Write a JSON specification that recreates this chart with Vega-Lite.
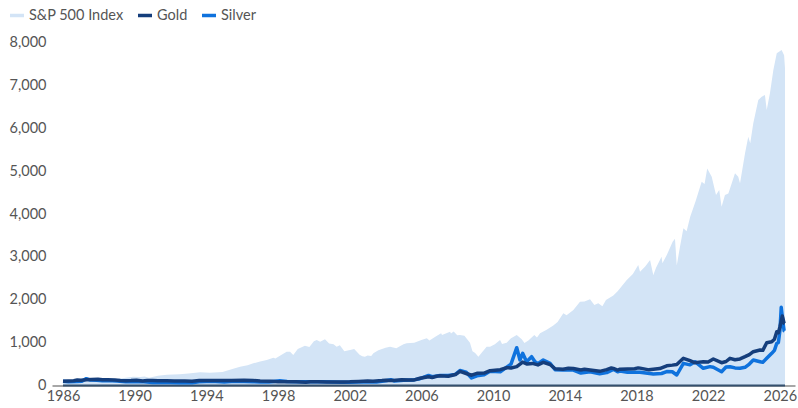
{
  "$schema": "https://vega.github.io/schema/vega-lite/v6.json",
  "width": 743,
  "height": 343,
  "autosize": {"type": "none"},
  "padding": {"left": 52, "top": 42.5, "right": 3, "bottom": 22.5},
  "background": "white",
  "config": {
    "view": {"stroke": null},
    "font": "Lato",
    "axis": {"labelFont": "Lato", "labelFontSize": 14.5, "labelColor": "#555555", "grid": false, "ticks": false, "title": null},
    "legend": {"labelFont": "Lato", "labelFontSize": 14.5, "labelColor": "#555555"}
  },
  "datasets": {
    "sp": [
      {"t":1986.0,"v":100},{"t":1986.25,"v":116},{"t":1986.55,"v":118},{"t":1986.72,"v":110},{"t":1987.0,"v":122},{"t":1987.3,"v":145},{"t":1987.62,"v":160},{"t":1987.8,"v":122},{"t":1988.0,"v":128},{"t":1988.5,"v":140},{"t":1989.0,"v":150},{"t":1989.6,"v":185},{"t":1989.92,"v":205},{"t":1990.3,"v":200},{"t":1990.55,"v":212},{"t":1990.8,"v":178},{"t":1991.3,"v":225},{"t":1991.8,"v":250},{"t":1992.5,"v":260},{"t":1993.0,"v":280},{"t":1993.65,"v":310},{"t":1994.2,"v":300},{"t":1994.9,"v":315},{"t":1995.13,"v":345},{"t":1995.5,"v":390},{"t":1995.88,"v":438},{"t":1996.3,"v":470},{"t":1996.62,"v":517},{"t":1997.0,"v":560},{"t":1997.37,"v":595},{"t":1997.74,"v":650},{"t":1997.85,"v":630},{"t":1998.2,"v":720},{"t":1998.48,"v":788},{"t":1998.67,"v":790},{"t":1998.85,"v":711},{"t":1999.1,"v":850},{"t":1999.5,"v":930},{"t":1999.75,"v":900},{"t":2000.0,"v":1030},{"t":2000.16,"v":1061},{"t":2000.35,"v":1020},{"t":2000.62,"v":1077},{"t":2000.85,"v":980},{"t":2001.1,"v":960},{"t":2001.27,"v":905},{"t":2001.45,"v":940},{"t":2001.7,"v":800},{"t":2002.02,"v":828},{"t":2002.25,"v":850},{"t":2002.55,"v":720},{"t":2002.7,"v":680},{"t":2002.85,"v":672},{"t":2003.0,"v":700},{"t":2003.2,"v":690},{"t":2003.32,"v":751},{"t":2003.6,"v":820},{"t":2004.0,"v":880},{"t":2004.25,"v":905},{"t":2004.6,"v":870},{"t":2005.0,"v":960},{"t":2005.18,"v":984},{"t":2005.6,"v":1000},{"t":2006.0,"v":1060},{"t":2006.3,"v":1101},{"t":2006.45,"v":1050},{"t":2006.8,"v":1140},{"t":2007.1,"v":1217},{"t":2007.15,"v":1180},{"t":2007.6,"v":1255},{"t":2007.65,"v":1210},{"t":2007.8,"v":1262},{"t":2008.0,"v":1170},{"t":2008.15,"v":1178},{"t":2008.4,"v":1160},{"t":2008.71,"v":1000},{"t":2008.85,"v":800},{"t":2009.0,"v":760},{"t":2009.18,"v":672},{"t":2009.35,"v":760},{"t":2009.64,"v":905},{"t":2009.83,"v":905},{"t":2010.1,"v":960},{"t":2010.39,"v":1061},{"t":2010.5,"v":970},{"t":2010.76,"v":1000},{"t":2011.0,"v":1100},{"t":2011.32,"v":1178},{"t":2011.6,"v":1080},{"t":2011.75,"v":990},{"t":2011.97,"v":1050},{"t":2012.3,"v":1180},{"t":2012.45,"v":1120},{"t":2012.62,"v":1217},{"t":2012.99,"v":1300},{"t":2013.36,"v":1400},{"t":2013.6,"v":1480},{"t":2013.92,"v":1683},{"t":2014.1,"v":1640},{"t":2014.48,"v":1760},{"t":2014.85,"v":1955},{"t":2015.1,"v":1960},{"t":2015.41,"v":2010},{"t":2015.65,"v":1880},{"t":2015.87,"v":1917},{"t":2016.1,"v":1850},{"t":2016.3,"v":1994},{"t":2016.71,"v":2100},{"t":2016.95,"v":2200},{"t":2017.46,"v":2460},{"t":2017.8,"v":2600},{"t":2018.1,"v":2810},{"t":2018.2,"v":2654},{"t":2018.5,"v":2780},{"t":2018.76,"v":2927},{"t":2018.94,"v":2577},{"t":2019.1,"v":2750},{"t":2019.4,"v":3004},{"t":2019.45,"v":2850},{"t":2019.7,"v":3050},{"t":2020.02,"v":3354},{"t":2020.15,"v":3420},{"t":2020.25,"v":2800},{"t":2020.43,"v":3237},{"t":2020.62,"v":3666},{"t":2020.8,"v":3600},{"t":2021.0,"v":3937},{"t":2021.3,"v":4300},{"t":2021.64,"v":4753},{"t":2021.8,"v":4700},{"t":2021.95,"v":5060},{"t":2022.2,"v":4870},{"t":2022.44,"v":4443},{"t":2022.62,"v":4560},{"t":2022.75,"v":4170},{"t":2022.94,"v":4443},{"t":2023.13,"v":4480},{"t":2023.5,"v":4950},{"t":2023.68,"v":4870},{"t":2023.78,"v":4715},{"t":2024.06,"v":5415},{"t":2024.24,"v":5800},{"t":2024.35,"v":5650},{"t":2024.52,"v":6115},{"t":2024.8,"v":6660},{"t":2024.99,"v":6735},{"t":2025.17,"v":6775},{"t":2025.27,"v":6425},{"t":2025.45,"v":6815},{"t":2025.64,"v":7360},{"t":2025.83,"v":7750},{"t":2026.1,"v":7825},{"t":2026.24,"v":7705},{"t":2026.29,"v":7400}
    ],
    "gold": [
      {"t":1986.0,"v":100},{"t":1986.3,"v":104},{"t":1986.6,"v":110},{"t":1986.8,"v":128},{"t":1987.0,"v":124},{"t":1987.3,"v":133},{"t":1987.6,"v":140},{"t":1987.95,"v":148},{"t":1988.2,"v":135},{"t":1988.5,"v":133},{"t":1988.9,"v":127},{"t":1989.2,"v":118},{"t":1989.5,"v":112},{"t":1989.8,"v":114},{"t":1990.1,"v":124},{"t":1990.45,"v":106},{"t":1990.7,"v":118},{"t":1991.0,"v":116},{"t":1991.3,"v":108},{"t":1991.8,"v":109},{"t":1992.2,"v":106},{"t":1992.8,"v":104},{"t":1993.2,"v":100},{"t":1993.6,"v":116},{"t":1994.0,"v":117},{"t":1994.5,"v":116},{"t":1995.0,"v":115},{"t":1995.4,"v":118},{"t":1996.1,"v":125},{"t":1996.6,"v":117},{"t":1997.0,"v":106},{"t":1997.6,"v":98},{"t":1998.0,"v":88},{"t":1998.5,"v":89},{"t":1999.0,"v":87},{"t":1999.55,"v":78},{"t":1999.8,"v":90},{"t":2000.2,"v":87},{"t":2000.7,"v":83},{"t":2001.2,"v":80},{"t":2001.7,"v":84},{"t":2002.0,"v":86},{"t":2002.5,"v":95},{"t":2003.0,"v":106},{"t":2003.3,"v":100},{"t":2003.8,"v":115},{"t":2004.0,"v":124},{"t":2004.4,"v":118},{"t":2004.9,"v":132},{"t":2005.3,"v":128},{"t":2005.6,"v":130},{"t":2005.92,"v":168},{"t":2006.4,"v":205},{"t":2006.6,"v":188},{"t":2006.85,"v":215},{"t":2007.04,"v":225},{"t":2007.5,"v":215},{"t":2007.9,"v":255},{"t":2008.15,"v":330},{"t":2008.5,"v":280},{"t":2008.8,"v":240},{"t":2009.1,"v":285},{"t":2009.5,"v":290},{"t":2009.83,"v":345},{"t":2010.4,"v":370},{"t":2010.76,"v":415},{"t":2011.0,"v":410},{"t":2011.32,"v":440},{"t":2011.65,"v":545},{"t":2011.9,"v":500},{"t":2012.2,"v":515},{"t":2012.5,"v":480},{"t":2012.8,"v":540},{"t":2013.18,"v":490},{"t":2013.46,"v":390},{"t":2013.9,"v":380},{"t":2014.2,"v":400},{"t":2014.48,"v":395},{"t":2014.9,"v":360},{"t":2015.1,"v":380},{"t":2015.41,"v":360},{"t":2015.95,"v":330},{"t":2016.34,"v":370},{"t":2016.6,"v":410},{"t":2016.71,"v":400},{"t":2016.95,"v":360},{"t":2017.08,"v":380},{"t":2017.5,"v":385},{"t":2017.9,"v":390},{"t":2018.1,"v":410},{"t":2018.2,"v":405},{"t":2018.7,"v":365},{"t":2018.94,"v":377},{"t":2019.3,"v":395},{"t":2019.69,"v":460},{"t":2020.0,"v":475},{"t":2020.25,"v":490},{"t":2020.62,"v":634},{"t":2020.99,"v":579},{"t":2021.27,"v":530},{"t":2021.5,"v":545},{"t":2021.73,"v":555},{"t":2022.0,"v":550},{"t":2022.29,"v":618},{"t":2022.75,"v":532},{"t":2023.0,"v":560},{"t":2023.22,"v":634},{"t":2023.5,"v":600},{"t":2023.78,"v":620},{"t":2024.06,"v":672},{"t":2024.3,"v":720},{"t":2024.52,"v":788},{"t":2024.9,"v":828},{"t":2025.05,"v":820},{"t":2025.27,"v":998},{"t":2025.55,"v":1021},{"t":2025.7,"v":1080},{"t":2025.83,"v":1255},{"t":2025.92,"v":1230},{"t":2026.01,"v":1371},{"t":2026.14,"v":1621},{"t":2026.24,"v":1450},{"t":2026.27,"v":1440}
    ],
    "silver": [
      {"t":1986.0,"v":100},{"t":1986.3,"v":90},{"t":1986.8,"v":95},{"t":1987.05,"v":100},{"t":1987.3,"v":160},{"t":1987.5,"v":130},{"t":1987.9,"v":125},{"t":1988.2,"v":112},{"t":1988.5,"v":118},{"t":1989.0,"v":102},{"t":1989.5,"v":90},{"t":1990.0,"v":92},{"t":1990.5,"v":85},{"t":1991.0,"v":70},{"t":1991.5,"v":74},{"t":1992.0,"v":70},{"t":1992.5,"v":67},{"t":1993.2,"v":64},{"t":1993.6,"v":85},{"t":1994.0,"v":92},{"t":1994.5,"v":91},{"t":1995.0,"v":81},{"t":1995.4,"v":96},{"t":1996.1,"v":96},{"t":1996.6,"v":88},{"t":1997.0,"v":83},{"t":1997.5,"v":81},{"t":1998.1,"v":112},{"t":1998.5,"v":93},{"t":1999.0,"v":88},{"t":1999.5,"v":90},{"t":2000.0,"v":90},{"t":2000.5,"v":86},{"t":2001.0,"v":80},{"t":2001.5,"v":75},{"t":2002.0,"v":78},{"t":2002.5,"v":83},{"t":2003.0,"v":81},{"t":2003.5,"v":82},{"t":2004.0,"v":110},{"t":2004.3,"v":135},{"t":2004.5,"v":105},{"t":2005.0,"v":120},{"t":2005.5,"v":126},{"t":2005.92,"v":158},{"t":2006.4,"v":235},{"t":2006.6,"v":205},{"t":2007.04,"v":235},{"t":2007.5,"v":232},{"t":2007.9,"v":260},{"t":2008.15,"v":350},{"t":2008.5,"v":310},{"t":2008.8,"v":175},{"t":2009.1,"v":225},{"t":2009.5,"v":250},{"t":2009.83,"v":330},{"t":2010.4,"v":320},{"t":2010.76,"v":430},{"t":2011.0,"v":500},{"t":2011.32,"v":882},{"t":2011.5,"v":595},{"t":2011.65,"v":750},{"t":2011.87,"v":555},{"t":2012.15,"v":672},{"t":2012.34,"v":555},{"t":2012.5,"v":510},{"t":2012.8,"v":595},{"t":2013.18,"v":517},{"t":2013.46,"v":370},{"t":2013.9,"v":360},{"t":2014.2,"v":370},{"t":2014.48,"v":361},{"t":2014.9,"v":290},{"t":2015.41,"v":322},{"t":2015.95,"v":275},{"t":2016.34,"v":300},{"t":2016.71,"v":377},{"t":2016.95,"v":320},{"t":2017.08,"v":338},{"t":2017.5,"v":310},{"t":2018.2,"v":310},{"t":2018.94,"v":268},{"t":2019.4,"v":280},{"t":2019.69,"v":325},{"t":2020.0,"v":320},{"t":2020.25,"v":245},{"t":2020.62,"v":517},{"t":2020.99,"v":482},{"t":2021.27,"v":555},{"t":2021.73,"v":401},{"t":2022.1,"v":440},{"t":2022.29,"v":424},{"t":2022.75,"v":322},{"t":2023.0,"v":430},{"t":2023.22,"v":439},{"t":2023.5,"v":410},{"t":2023.78,"v":401},{"t":2024.06,"v":424},{"t":2024.3,"v":500},{"t":2024.52,"v":595},{"t":2024.9,"v":555},{"t":2025.05,"v":540},{"t":2025.27,"v":634},{"t":2025.55,"v":750},{"t":2025.7,"v":820},{"t":2025.83,"v":984},{"t":2025.92,"v":1000},{"t":2026.01,"v":1294},{"t":2026.08,"v":1823},{"t":2026.16,"v":1527},{"t":2026.24,"v":1278},{"t":2026.27,"v":1270}
    ]
  },
  "encoding": {
    "x": {
      "field": "t", "type": "quantitative",
      "scale": {"domain": [1985.386, 2026.848], "nice": false, "zero": false},
      "axis": {"values": [1986,1990,1994,1998,2002,2006,2010,2014,2018,2022,2026], "format": "d", "domain": true, "domainColor": "#8a8a8a", "domainWidth": 1.5, "labelPadding": 4, "labelFlush": false}
    },
    "y": {
      "field": "v", "type": "quantitative",
      "scale": {"domain": [0, 8000], "nice": false},
      "axis": {"values": [0,1000,2000,3000,4000,5000,6000,7000,8000], "format": ",d", "domain": false, "labelPadding": 6}
    }
  },
  "layer": [
    {
      "data": {"name": "sp"},
      "mark": {"type": "area", "opacity": 1, "line": false},
      "encoding": {
        "color": {
          "datum": "S&P 500 Index",
          "scale": {"domain": ["S&P 500 Index", "Gold", "Silver"], "range": ["#d3e4f6", "#153e7c", "#0f72dd"]},
          "legend": {
            "title": null, "orient": "none", "legendX": -44, "legendY": -36, "direction": "horizontal",
            "symbolType": "stroke", "symbolSize": 196, "symbolStrokeWidth": 3.5, "columnPadding": 7, "labelOffset": 3,
            "encode": {"symbols": {"update": {"stroke": {"scale": "color", "field": "value"}, "strokeWidth": {"value": 3.5}}}}
          }
        }
      }
    },
    {
      "data": {"name": "sp"},
      "mark": {"type": "line", "color": "#34506e", "strokeWidth": 2},
      "encoding": {
        "y": {"datum": 0}
      }
    },
    {
      "data": {"name": "silver"},
      "mark": {"type": "line", "strokeWidth": 3.5, "strokeJoin": "round"},
      "encoding": {"color": {"datum": "Silver"}}
    },
    {
      "data": {"name": "gold"},
      "mark": {"type": "line", "strokeWidth": 3.5, "strokeJoin": "round"},
      "encoding": {"color": {"datum": "Gold"}}
    }
  ]
}
